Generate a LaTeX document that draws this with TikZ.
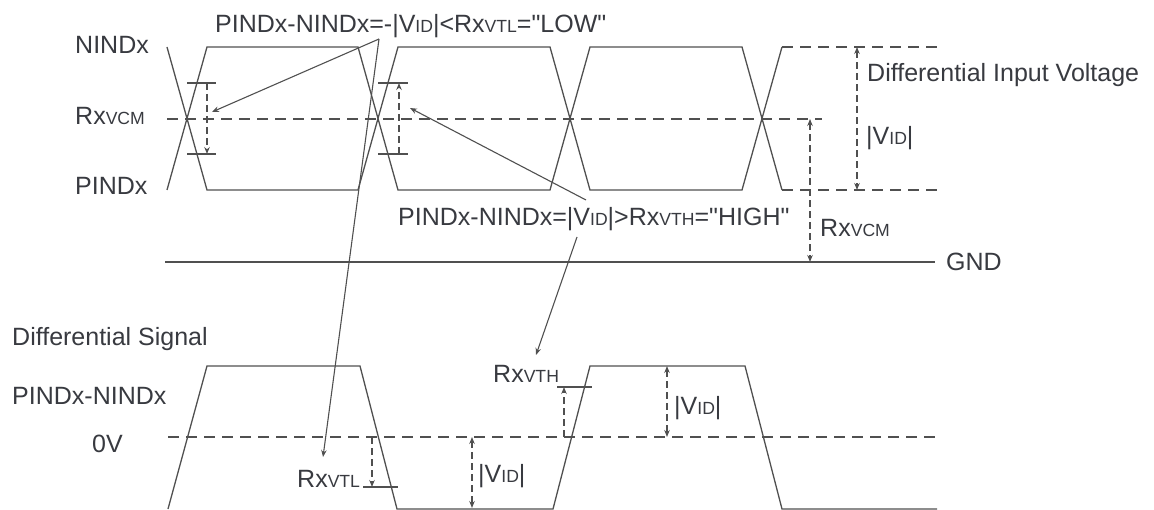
\documentclass[tikz,border=0pt]{standalone}
\usepackage{fontspec}
\setmainfont{Liberation Sans}[Ligatures=TeXOff]
\usetikzlibrary{arrows.meta}
\definecolor{ln}{HTML}{505050}
\definecolor{tx}{HTML}{383A40}
\newcommand\smc[1]{{\fontsize{17.6}{18}\selectfont #1}}
\begin{document}
\begin{tikzpicture}[x=1pt,y=-1pt,
  wave/.style={draw=ln, line width=1.3pt, line join=miter},
  dashln/.style={draw=ln, line width=1.3pt, dash pattern=on 11pt off 7pt},
  dimln/.style={draw=ln, line width=1.1pt, dash pattern=on 7pt off 4pt},
  tickln/.style={draw=ln, line width=1.1pt},
  arrln/.style={draw=ln, line width=1.1pt},
  tipe/.style={-{Stealth[length=7pt,width=5.5pt]}},
  tipb/.style={{Stealth[length=7pt,width=5.5pt]}-{Stealth[length=7pt,width=5.5pt]}},
  lbl/.style={text=tx, font=\fontsize{25}{29}\selectfont, inner sep=0pt, anchor=base west}]
\useasboundingbox (0,0) rectangle (1154,510);

% ---------- top section ----------
\draw[wave] (167,47) -- (207,190) -- (358,190) -- (398,47) -- (550,47) -- (590,190) -- (742,190) -- (782,47);
\draw[wave] (167,190) -- (207,47) -- (358,47) -- (398,190) -- (550,190) -- (590,47) -- (742,47) -- (782,190);
\draw[dashln] (782,47) -- (937,47);
\draw[dashln] (782,190) -- (937,190);
\draw[dashln] (167,119) -- (822,119);
\draw[wave] (165,262) -- (935,262);

% right dimensions
\coordinate (dvT) at (857,47);
\coordinate (dvB) at (857,190);
\draw[dimln,tipb] (dvT) -- (dvB);
\coordinate (cmT) at (810,119);
\coordinate (cmB) at (810,262);
\draw[dimln,tipb] (cmT) -- (cmB);

% markers at crossings
\draw[tickln] (187,83) -- (216,83);
\draw[tickln] (187,154) -- (216,154);
\coordinate (m1T) at (207,83);
\coordinate (m1B) at (207,154);
\draw[dimln,tipe] (m1T) -- (m1B);
\draw[tickln] (378,83) -- (408,83);
\draw[tickln] (378,154) -- (408,154);
\coordinate (m2T) at (399,83);
\coordinate (m2B) at (399,154);
\draw[dimln,tipe] (m2B) -- (m2T);

% labels top
\node[lbl] (nind) at (75,54) {NINDx};
\node[lbl] (rxvcm) at (75,125) {Rx\smc{VCM}};
\node[lbl] (pind) at (75,195) {PINDx};
\node[lbl] (low) at (215,33) {PINDx-NINDx=-|V\smc{ID}|<Rx\smc{VTL}="LOW"};
\node[lbl] (high) at (398,226) {PINDx-NINDx=|V\smc{ID}|>Rx\smc{VTH}="HIGH"};
\node[lbl] (div) at (867,82) {Differential Input Voltage};
\node[lbl] (vid1) at (866,145) {|V\smc{ID}|};
\node[lbl] (rxvcm2) at (820,237) {Rx\smc{VCM}};
\node[lbl] (gnd) at (946,271) {GND};

% ---------- bottom section ----------
\draw[wave] (168,509) -- (207,366) -- (360,366) -- (397,509) -- (553,509) -- (590,366) -- (745,366) -- (782,509) -- (937,509);
\draw[dashln] (168,437) -- (937,437);

\coordinate (vtlT) at (372,437);
\coordinate (vtlB) at (372,487);
\draw[dimln,tipe] (vtlT) -- (vtlB);
\draw[tickln] (363,487) -- (398,487);

\coordinate (vb1T) at (472,437);
\coordinate (vb1B) at (472,508);
\draw[dimln,tipb] (vb1T) -- (vb1B);

\coordinate (vthB) at (564,437);
\coordinate (vthT) at (564,387);
\draw[dimln,tipe] (vthB) -- (vthT);
\draw[tickln] (557,387) -- (592,387);

\coordinate (vb2T) at (667,366);
\coordinate (vb2B) at (667,437);
\draw[dimln,tipb] (vb2T) -- (vb2B);

\node[lbl] (dsig) at (12,346) {Differential Signal};
\node[lbl] (pn) at (12,405) {PINDx-NINDx};
\node[lbl] (zero) at (92,452) {0V};
\node[lbl] (rxvtl) at (297,487) {Rx\smc{VTL}};
\node[lbl] (vid2) at (478,482) {|V\smc{ID}|};
\node[lbl] (rxvth) at (493,383) {Rx\smc{VTH}};
\node[lbl] (vid3) at (674,415) {|V\smc{ID}|};

% ---------- annotation arrows ----------
\coordinate (lowA) at (379,39);
\coordinate (lowT1) at (212,112);
\coordinate (lowT2) at (323,457);
\draw[arrln,tipe] (lowA) -- (lowT1);
\draw[arrln,tipe] (lowA) -- (lowT2);
\coordinate (hiA) at (586,200);
\coordinate (hiT1) at (410,108);
\draw[arrln,tipe] (hiA) -- (hiT1);
\coordinate (hiB) at (577,237);
\coordinate (hiT2) at (536,355);
\draw[arrln,tipe] (hiB) -- (hiT2);
\end{tikzpicture}
\end{document}
